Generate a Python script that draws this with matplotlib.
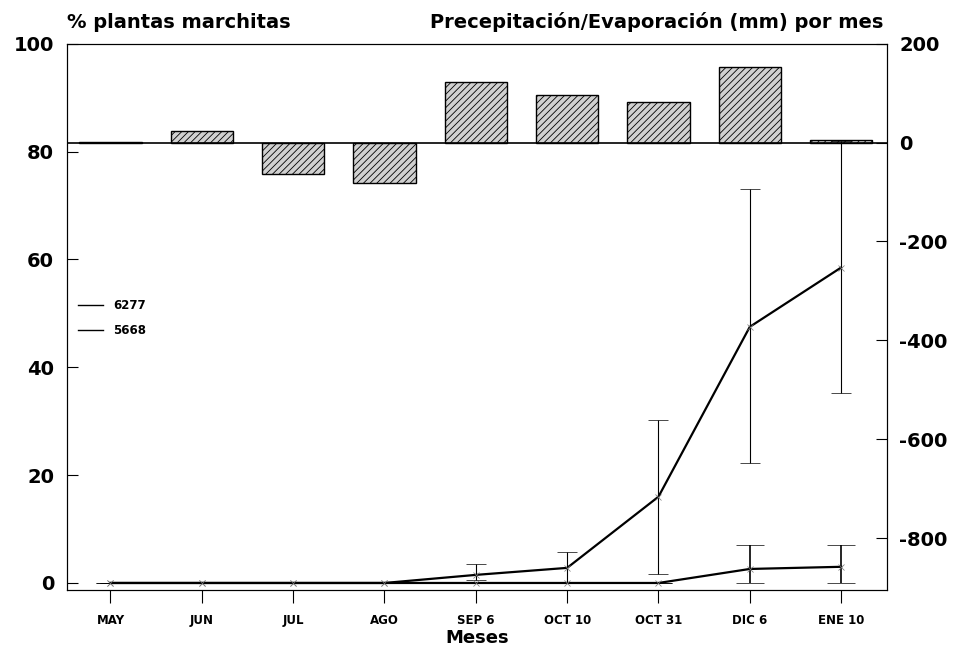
import numpy as np
import matplotlib
matplotlib.use("Agg")
from matplotlib import pyplot as plt
from matplotlib.lines import Line2D

plt.rcParams['font.family'] = ['DejaVu Sans']
plt.rcParams['axes.unicode_minus'] = False
plt.rcParams['hatch.color'] = '#444444'
plt.rcParams['hatch.linewidth'] = 0.6

meses = ["MAY", "JUN", "JUL", "AGO", "SEP 6", "OCT 10", "OCT 31", "DIC 6", "ENE 10"]

# balance precipitacion - evaporacion (mm)
balance = [2, 23, -64, -82, 122, 97, 82, 153, 6]

# % plantas marchitas
s5668 = [0, 0, 0, 0, 1.5, 2.8, 16, 47.5, 58.5]
s5668_lo = [0, 0, 0, 0, 1.0, 2.6, 14.3, 25.2, 23.3]
s5668_hi = [0, 0, 0, 0, 2.0, 2.9, 14.2, 25.5, 23.5]

s6277 = [0, 0, 0, 0, 0, 0, 0, 2.6, 3.0]
s6277_lo = [0, 0, 0, 0, 0, 0, 0, 2.6, 3.0]
s6277_hi = [0, 0, 0, 0, 0, 0, 0, 4.4, 4.0]

x = np.arange(len(meses))

fig = plt.figure(figsize=(9.66, 6.53), dpi=100)
ax = fig.add_axes([0.069, 0.0965, 0.849, 0.8365])
ax2 = ax.twinx()

# bars on the right axis
ax2.bar(x, balance, width=0.68, color='#d0d0d0', edgecolor='black',
        linewidth=1.0, hatch='/////', zorder=2)
ax2.axhline(0, color='black', lw=1.2, zorder=3)
ax2.set_ylim(-905, 200)
ax2.set_yticks([200, 0, -200, -400, -600, -800])
ax2.tick_params(axis='y', direction='in', length=8, labelsize=14, pad=9)
for t in ax2.get_yticklabels():
    t.set_fontweight('bold')

# lines on the left axis, drawn above the bars
ax.set_zorder(ax2.get_zorder() + 1)
ax.patch.set_visible(False)

ax.errorbar(x, s5668, yerr=[s5668_lo, s5668_hi], color='black', lw=1.6,
            elinewidth=0.8, capsize=7, capthick=1.5, marker='x', ms=5,
            mew=0.5, mec='#777777')
ax.errorbar(x, s6277, yerr=[s6277_lo, s6277_hi], color='black', lw=1.6,
            elinewidth=1.2, capsize=10, capthick=2.0, marker='x', ms=5,
            mew=0.5, mec='#777777')

ax.set_xlim(-0.48, 8.5)
ax.set_ylim(-1.3, 100)
ax.set_yticks([0, 20, 40, 60, 80, 100])
ax.tick_params(axis='y', direction='in', length=8, labelsize=14, pad=9)
for t in ax.get_yticklabels():
    t.set_fontweight('bold')
ax.set_xticks(x)
ax.set_xticklabels(meses, fontsize=8.5, fontweight='bold')
ax.tick_params(axis='x', direction='out', length=9, pad=8)
ax.set_xlabel("Meses", fontsize=13, fontweight='bold', labelpad=2)

handles = [Line2D([], [], color='black', lw=1.0),
           Line2D([], [], color='black', lw=1.0)]
ax.legend(handles, ['6277', '5668'], loc='upper left',
          bbox_to_anchor=(0.014, 0.532), frameon=False, borderpad=0,
          borderaxespad=0, handlelength=2.1, handletextpad=0.85,
          labelspacing=1.0, prop={'weight': 'bold', 'size': 8.5})

fig.text(0.069, 0.966, "% plantas marchitas", fontsize=14, fontweight='bold',
         va='center')
fig.text(0.914, 0.966, "Precepitación/Evaporación (mm) por mes", fontsize=14,
         fontweight='bold', ha='right', va='center')

fig.savefig("out.png", dpi=100)
